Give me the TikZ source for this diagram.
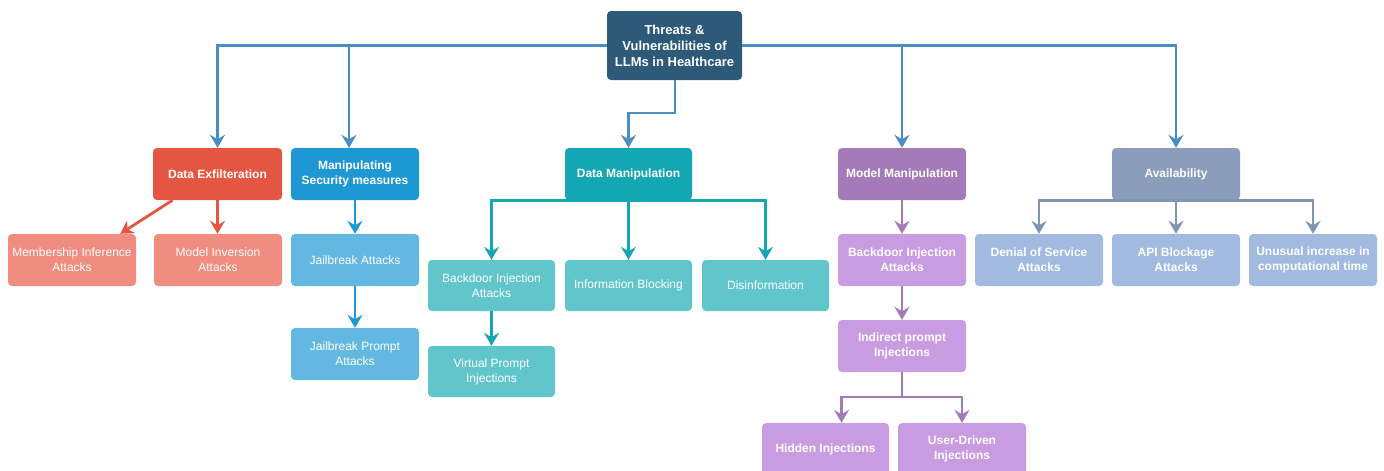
\documentclass[tikz,border=0pt]{standalone}
\usepackage{fontspec}
\setmainfont{Liberation Sans}
\usetikzlibrary{arrows.meta}

% palette
\definecolor{rootc}{HTML}{2E5A7A}
\definecolor{rootline}{HTML}{4A8DC2}
\definecolor{exfc}{HTML}{E45641}
\definecolor{exfl}{HTML}{F08C80}
\definecolor{secc}{HTML}{1E98D4}
\definecolor{secl}{HTML}{62B8E0}
\definecolor{dmc}{HTML}{14A7B3}
\definecolor{dml}{HTML}{61C6CC}
\definecolor{mmc}{HTML}{A47BB8}
\definecolor{mml}{HTML}{C99BE0}
\definecolor{avc}{HTML}{8A9DBA}
\definecolor{avl}{HTML}{A2BADF}
\definecolor{avline}{HTML}{7F95B4}

\tikzset{
  box/.style={rounded corners=4pt, minimum width=128pt, minimum height=52pt,
    inner sep=2pt, align=center, text=white, font=\fontsize{12}{15}\selectfont},
  boldbox/.style={box, font=\fontsize{12}{15}\selectfont\bfseries},
  link/.style={line width=2.8pt, -{Stealth[length=13pt,width=15pt,inset=4.5pt]}},
}

\begin{document}
\begin{tikzpicture}[x=1pt,y=-1pt]
\useasboundingbox (0,0) rectangle (1384,471);

% root
\node[boldbox, fill=rootc, minimum width=135pt, minimum height=69pt,
      font=\fontsize{13}{16}\selectfont\bfseries] (root) at (674.5,45.5)
  {Threats \&\\Vulnerabilities of\\LLMs in Healthcare};

% first level
\node[boldbox, fill=exfc, minimum width=129pt] (exfil) at (217.5,174) {Data Exfilteration};
\node[boldbox, fill=secc] (manip) at (355,174) {Manipulating\\Security measures};
\node[boldbox, fill=dmc, minimum width=127pt] (dman) at (628.5,174) {Data Manipulation};
\node[boldbox, fill=mmc] (mman) at (902,174) {Model Manipulation};
\node[boldbox, fill=avc] (avail) at (1176,174) {Availability};

% data exfiltration
\node[box, fill=exfl] (memb) at (72,260) {Membership Inference\\Attacks};
\node[box, fill=exfl] (minv) at (218,260) {Model Inversion\\Attacks};

% security measures
\node[box, fill=secl] (jail) at (355,260) {Jailbreak Attacks};
\node[box, fill=secl] (jprompt) at (355,354) {Jailbreak Prompt\\Attacks};

% data manipulation
\node[box, fill=dml, minimum width=127pt, minimum height=51pt] (bdoor) at (491.5,285.5) {Backdoor Injection\\Attacks};
\node[box, fill=dml, minimum width=127pt, minimum height=51pt] (infob) at (628.5,285.5) {Information Blocking};
\node[box, fill=dml, minimum width=127pt, minimum height=51pt] (disinf) at (765.5,285.5) {Disinformation};
\node[box, fill=dml, minimum width=127pt, minimum height=51pt] (vprompt) at (491.5,371.5) {Virtual Prompt\\Injections};

% model manipulation
\node[boldbox, fill=mml] (mbdoor) at (902,260) {Backdoor Injection\\Attacks};
\node[boldbox, fill=mml] (indirect) at (902,346) {Indirect prompt\\Injections};
\node[boldbox, fill=mml, minimum width=127pt] (hidden) at (825.5,449) {Hidden Injections};
\node[boldbox, fill=mml] (userdr) at (962,449) {User-Driven\\Injections};

% availability
\node[boldbox, fill=avl] (dos) at (1039,260) {Denial of Service\\Attacks};
\node[boldbox, fill=avl] (api) at (1176,260) {API Blockage\\Attacks};
\node[boldbox, fill=avl] (unusual) at (1313,260) {Unusual increase in\\computational time};

% root branches
\draw[link, draw=rootline] (root.west) -| (exfil.north);
\draw[link, draw=rootline] (root.west) -| ([xshift=-6pt]manip.north);
\draw[link, draw=rootline] (root.east) -| (mman.north);
\draw[link, draw=rootline] (root.east) -| (avail.north);
\coordinate (rootdrop) at (675,113);
\draw[link, draw=rootline] (root.south -| rootdrop) -- (rootdrop) -| (dman.north);

% data exfiltration links
\draw[link, draw=exfc] ([xshift=-45pt]exfil.south) -- ([xshift=-16pt]memb.north east);
\draw[link, draw=exfc] (exfil.south) -- (exfil.south |- minv.north);

% security measures links
\draw[link, draw=secc] (manip) -- (jail);
\draw[link, draw=secc] (jail) -- (jprompt);

% data manipulation links
\draw[link, draw=dmc] (dman.south) -| (bdoor.north);
\draw[link, draw=dmc] (dman) -- (infob);
\draw[link, draw=dmc] (dman.south) -| (disinf.north);
\draw[link, draw=dmc] (bdoor) -- (vprompt);

% model manipulation links
\draw[link, draw=mmc] (mman) -- (mbdoor);
\draw[link, draw=mmc] (mbdoor) -- (indirect);
\coordinate (split) at (902,397);
\draw[link, draw=mmc] (indirect) -- (split) -| ([xshift=16pt]hidden.north);
\draw[link, draw=mmc] (indirect) -- (split) -| (userdr.north);

% availability links
\draw[link, draw=avline] (avail.south) -| (dos.north);
\draw[link, draw=avline] (avail) -- (api);
\draw[link, draw=avline] (avail.south) -| (unusual.north);
\end{tikzpicture}
\end{document}
